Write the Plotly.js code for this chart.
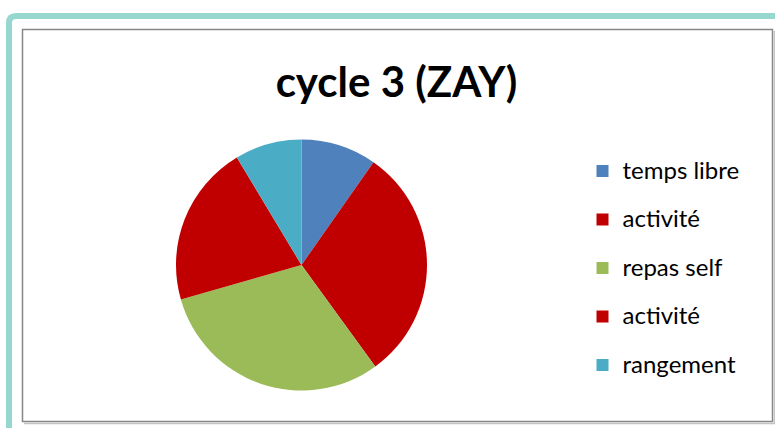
<!DOCTYPE html>
<html>
<head>
<meta charset="utf-8">
<script src="https://cdn.plot.ly/plotly-3.0.1.min.js"></script>
<style>html,body{margin:0;padding:0;background:#fff;}#chart{width:775px;height:428px;}</style>
</head>
<body>
<div id="chart"></div>
<script>
// Data (share of the cycle, in degrees of the pie)
const titleText = 'cycle 3 (ZAY)';
const labels = ['temps libre', 'activité', 'repas self', 'activité', 'rangement'];
const values = [35, 109, 110, 75, 31];
const colors = ['#4F81BD', '#C00000', '#9BBB59', '#C00000', '#4BACC6'];

const W = 775, H = 428;
const X = px => px / W;
const Y = py => 1 - py / H;

// distinct keys for identical labels (pie merges equal labels)
const seen = {};
const keys = labels.map(l => {
  seen[l] = (seen[l] || 0) + 1;
  return l + '\u200b'.repeat(seen[l] - 1);
});
const legendLabels = keys.map(k =>
  '<span style="font-size:24px;baseline-shift:5.6px">' + k + '</span>');

const trace = {
  type: 'pie',
  labels: legendLabels,
  values: values,
  marker: { colors: colors, line: { width: 0 } },
  sort: false,
  direction: 'clockwise',
  rotation: 0,
  textinfo: 'none',
  hoverinfo: 'percent',
  domain: { x: [X(176), X(427)], y: [Y(390.5), Y(139.5)] },
  showlegend: true
};

const layout = {
  width: W, height: H,
  margin: { l: 0, r: 0, t: 0, b: 0 },
  paper_bgcolor: '#ffffff',
  title: {
    text: '<b>' + titleText + '</b>',
    x: X(396.5), y: Y(82.5), xanchor: 'center', yanchor: 'middle',
    font: { family: 'Lato, "Noto Sans", sans-serif', size: 42, color: '#000000' }
  },
  legend: {
    x: X(582.5), y: Y(141.75), xanchor: 'left', yanchor: 'top',
    font: { family: 'Lato, "Noto Sans", sans-serif', size: 35, color: '#000000' },
    bgcolor: 'rgba(0,0,0,0)'
  },
  shapes: [
    // outer teal frame with rounded corner
    { type: 'path', xref: 'paper', yref: 'paper',
      path: `M${X(9)},${Y(440)} L${X(9)},${Y(23)} Q${X(9)},${Y(16)} ${X(16)},${Y(16)} L${X(790)},${Y(16)}`,
      line: { color: '#96D7CF', width: 6 } },
    // inner box shadow
    { type: 'path', xref: 'paper', yref: 'paper',
      path: `M${X(774.5)},${Y(31)} L${X(774.5)},${Y(423.5)} L${X(24)},${Y(423.5)}`,
      line: { color: '#C4C4C4', width: 1.5 } },
    // inner gray box
    { type: 'rect', xref: 'paper', yref: 'paper',
      x0: X(22.5), x1: X(772.5), y0: Y(421.5), y1: Y(29.5),
      line: { color: '#878787', width: 1.5 } }
  ]
};

Plotly.newPlot('chart', [trace], layout, { displayModeBar: false, staticPlot: true });
</script>
</body>
</html>
